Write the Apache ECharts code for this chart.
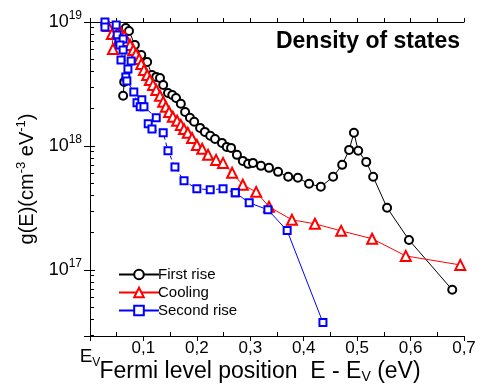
<!DOCTYPE html>
<html>
<head>
<meta charset="utf-8">
<script src="https://cdn.jsdelivr.net/npm/echarts@6/dist/echarts.min.js"></script>
<style>
  html, body { margin: 0; padding: 0; background: #fff; }
  #main { width: 490px; height: 385px; }
</style>
</head>
<body>
<div id="main"></div>
<script>
// 数据：能量位置 (eV) 与态密度 g(E) (cm^-3 eV^-1)
var firstRiseX = [0.062, 0.064, 0.067, 0.073, 0.084, 0.096, 0.107, 0.116, 0.124, 0.131, 0.137, 0.146, 0.154, 0.161, 0.170, 0.178, 0.187, 0.195, 0.206, 0.215, 0.225, 0.234, 0.247, 0.256, 0.264, 0.275, 0.286, 0.296, 0.305, 0.320, 0.335, 0.352, 0.371, 0.389, 0.410, 0.432, 0.455, 0.472, 0.485, 0.494, 0.502, 0.517, 0.530, 0.556, 0.597, 0.678];
var firstRiseY = [2.54e18, 3.29e18, 8.95e18, 8.47e18, 6.53e18, 5.42e18, 4.76e18, 3.74e18, 3.61e18, 3.54e18, 3.11e18, 2.68e18, 2.58e18, 2.44e18, 2.19e18, 1.88e18, 1.69e18, 1.57e18, 1.40e18, 1.30e18, 1.21e18, 1.14e18, 1.06e18, 9.84e17, 9.66e17, 8.49e17, 7.59e17, 7.18e17, 7.31e17, 6.92e17, 6.67e17, 6.19e17, 5.65e17, 5.55e17, 4.96e17, 4.69e17, 5.65e17, 7.05e17, 9.31e17, 1.28e18, 9.15e17, 7.45e17, 5.65e17, 3.18e17, 1.75e17, 6.93e16];

var coolingX = [0.034, 0.041, 0.043, 0.051, 0.058, 0.064, 0.069, 0.075, 0.081, 0.086, 0.092, 0.096, 0.101, 0.107, 0.112, 0.118, 0.124, 0.131, 0.137, 0.142, 0.148, 0.155, 0.163, 0.170, 0.176, 0.183, 0.191, 0.200, 0.210, 0.221, 0.236, 0.249, 0.266, 0.286, 0.311, 0.335, 0.378, 0.421, 0.470, 0.528, 0.591, 0.693];
var coolingY = [9.29e18, 8.00e18, 6.06e18, 8.15e18, 8.15e18, 7.71e18, 7.03e18, 6.53e18, 5.95e18, 5.52e18, 5.03e18, 4.59e18, 4.11e18, 3.74e18, 3.41e18, 3.11e18, 2.83e18, 2.54e18, 2.27e18, 2.07e18, 1.88e18, 1.72e18, 1.60e18, 1.48e18, 1.37e18, 1.28e18, 1.16e18, 1.02e18, 9.49e17, 8.49e17, 7.73e17, 7.31e17, 6.08e17, 4.87e17, 4.27e17, 3.24e17, 2.54e17, 2.36e17, 2.07e17, 1.79e17, 1.30e17, 1.10e17];

// 第二次升温：前段虚线，后段实线
var secondRiseX = [0.028, 0.028, 0.049, 0.051, 0.054, 0.062, 0.056, 0.062, 0.058, 0.077, 0.071, 0.067, 0.069, 0.082, 0.088, 0.097, 0.094, 0.101, 0.124, 0.109, 0.116, 0.137, 0.146, 0.159, 0.176, 0.200, 0.225, 0.249, 0.272];
var secondRiseY = [1.0e19, 9.12e18, 9.46e18, 7.86e18, 6.90e18, 7.30e18, 6.53e18, 5.95e18, 4.94e18, 4.85e18, 4.18e18, 3.61e18, 3.35e18, 2.73e18, 2.23e18, 2.36e18, 2.07e18, 2.07e18, 1.69e18, 1.51e18, 1.37e18, 1.28e18, 9.14e17, 6.79e17, 5.24e17, 4.52e17, 4.44e17, 4.52e17, 4.20e17];
var secondRiseTailX = [0.272, 0.298, 0.333, 0.369, 0.436];
var secondRiseTailY = [4.20e17, 3.49e17, 3.06e17, 2.08e17, 3.77e16];

var xTicks = ['E', '0,1', '0,2', '0,3', '0,4', '0,5', '0,6', '0,7'];
var yMin = 2.94e16, yMax = 1e19;

function pairs(xs, ys) {
  return xs.map(function (x, i) { return [x, ys[i]]; });
}

var font = 'Liberation Sans, Arial, sans-serif';

var myChart = echarts.init(document.getElementById('main'));
var option = {
  animation: false,
  textStyle: { fontFamily: font, color: '#000' },
  title: {
    text: 'Density of states',
    right: 25,
    top: 25,
    textStyle: { fontFamily: font, fontSize: 23, fontWeight: 'bold', color: '#000' }
  },
  grid: { left: 90, top: 22, right: 26, bottom: 49, outerBoundsMode: 'none', containLabel: false },
  legend: {
    orient: 'vertical',
    left: 113,
    top: 262,
    itemWidth: 40,
    itemHeight: 12,
    itemGap: 3,
    data: ['First rise', 'Cooling', 'Second rise'],
    textStyle: { fontFamily: font, fontSize: 15, color: '#000', padding: [0, 0, 0, -6] }
  },
  xAxis: [
    {
      type: 'value', min: 0, max: 0.7, interval: 0.1,
      name: 'Fermi level position  E - E{sub|V} (eV)',
      nameLocation: 'middle', nameGap: 24, nameMoveOverlap: false,
      nameTextStyle: {
        fontFamily: font, fontSize: 23, color: '#000', padding: [0, 34, 0, 0],
        rich: { sub: { fontFamily: font, fontSize: 14, padding: [10, 0, 0, 0] } }
      },
      axisLine: { lineStyle: { color: '#000', width: 1 } },
      axisTick: { length: 5, lineStyle: { color: '#000' } },
      splitLine: { show: false },
      axisLabel: {
        margin: 4, fontFamily: font, fontSize: 17, color: '#000',
        formatter: function (v) {
          var t = xTicks[Math.round(v * 10)];
          return v === 0 ? '{e|' + t + '}{v|V}' : t;
        },
        rich: {
          e: { fontFamily: font, fontSize: 19, padding: [5, 0, 0, 0] },
          v: { fontFamily: font, fontSize: 12, padding: [17, 0, 0, 0] }
        }
      }
    },
    {
      type: 'value', min: 0, max: 0.7, interval: 0.1, position: 'bottom',
      axisLine: { show: false }, axisLabel: { show: false }, splitLine: { show: false },
      axisTick: { show: false, inside: true },
      minorTick: { show: true, splitNumber: 2, length: 4, lineStyle: { color: '#000' } }
    },
    {
      type: 'value', min: 0, max: 0.7, interval: 0.1, position: 'top',
      axisLine: { lineStyle: { color: '#000', width: 1 } }, axisLabel: { show: false },
      splitLine: { show: false },
      axisTick: { length: 4, lineStyle: { color: '#000' } },
      minorTick: { show: true, splitNumber: 2, length: 4, lineStyle: { color: '#000' } }
    }
  ],
  yAxis: [
    {
      type: 'log', logBase: 10, min: yMin, max: yMax,
      name: 'g(E)(cm{sup|-3} eV{sup|-1})',
      nameLocation: 'middle', nameGap: 50, nameMoveOverlap: false,
      nameTextStyle: {
        fontFamily: font, fontSize: 20, color: '#000',
        rich: { sup: { fontFamily: font, fontSize: 13, padding: [0, 0, 12, 0] } }
      },
      axisLine: { lineStyle: { color: '#000', width: 1 } },
      axisTick: { length: 6, lineStyle: { color: '#000' } },
      splitLine: { show: false },
      axisLabel: {
        margin: 8, fontFamily: font, fontSize: 18, color: '#000',
        formatter: function (v) {
          var e = Math.log(v) / Math.LN10;
          if (Math.abs(e - Math.round(e)) > 1e-6) return '';
          return '{b|10}{s|' + Math.round(e) + '}';
        },
        rich: {
          b: { fontFamily: font, fontSize: 18 },
          s: { fontFamily: font, fontSize: 12, padding: [0, 0, 12, 0] }
        }
      }
    },
    {
      type: 'log', logBase: 10, min: yMin, max: yMax, position: 'left',
      axisLine: { show: false }, axisLabel: { show: false }, splitLine: { show: false },
      axisTick: { show: false, inside: true },
      minorTick: { show: true, splitNumber: 9, length: 4, lineStyle: { color: '#000' } }
    },
    {
      type: 'log', logBase: 10, min: yMin, max: yMax, position: 'right',
      axisLine: { lineStyle: { color: '#000', width: 1 } }, axisLabel: { show: false },
      splitLine: { show: false },
      axisTick: { length: 5, lineStyle: { color: '#000' } },
      minorTick: { show: true, splitNumber: 9, length: 4, lineStyle: { color: '#000' } }
    }
  ],
  series: [
    {
      name: 'First rise', type: 'line',
      symbol: 'emptyCircle', symbolSize: 8,
      lineStyle: { color: '#000', width: 1 },
      itemStyle: { color: '#000', borderWidth: 1.3 },
      data: pairs(firstRiseX, firstRiseY)
    },
    {
      name: 'Cooling', type: 'line',
      symbol: 'emptyTriangle', symbolSize: 10,
      lineStyle: { color: '#ff0000', width: 1 },
      itemStyle: { color: '#ff0000', borderWidth: 1.8 },
      data: pairs(coolingX, coolingY)
    },
    {
      name: 'Second rise', type: 'line',
      symbol: 'emptyRect', symbolSize: 7,
      lineStyle: { color: '#0000ff', width: 1 },
      itemStyle: { color: '#0000ff', borderWidth: 1.5 },
      data: pairs(secondRiseTailX, secondRiseTailY)
    },
    {
      name: 'Second rise', type: 'line',
      symbol: 'emptyRect', symbolSize: 7,
      lineStyle: { color: '#0000ff', width: 1, type: [4, 3] },
      itemStyle: { color: '#0000ff', borderWidth: 1.5 },
      data: pairs(secondRiseX, secondRiseY)
    }
  ]
};
myChart.setOption(option);
</script>
</body>
</html>
